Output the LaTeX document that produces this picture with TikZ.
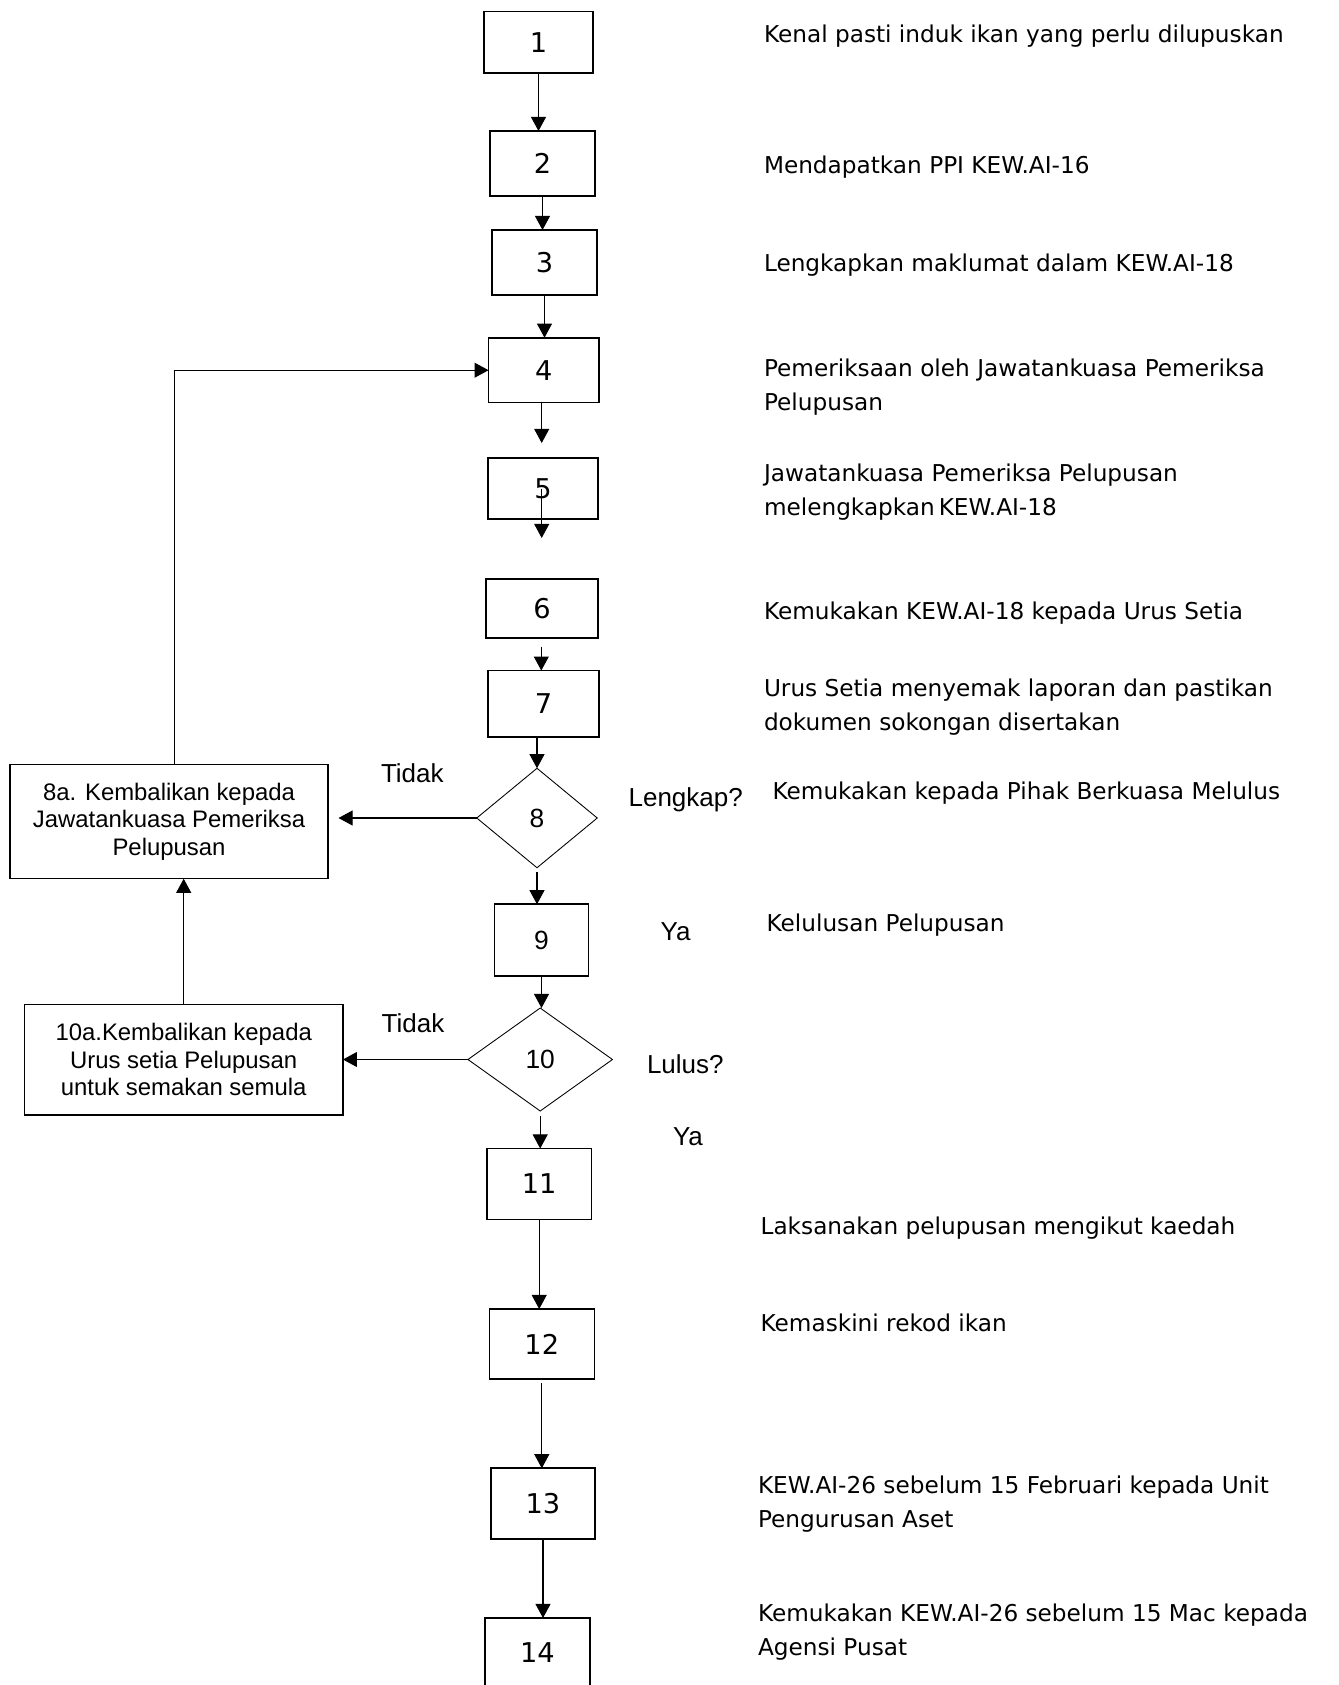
\documentclass[tikz,border=0pt]{standalone}
\usepackage{fontspec}
\setmainfont{Liberation Sans}
\newfontfamily\stepfont{DejaVu Sans}
\usetikzlibrary{shapes.geometric,arrows.meta}

\begin{document}
\begin{tikzpicture}[x=0.02cm,y=-0.02cm,inner sep=0pt,outer sep=0pt,line width=0.6pt,
stepbox/.style={draw,rectangle,line width=0.9pt,font=\stepfont\fontsize{15.5}{18}\selectfont},
askbox/.style={draw,diamond,line width=0.5pt,font=\fontsize{15}{18}\selectfont},
backbox/.style={draw,rectangle,line width=0.8pt,align=center,font=\fontsize{13.6}{15.6}\selectfont},
note/.style={anchor=north west,align=left,font=\stepfont\fontsize{13.2}{19.35}\selectfont},
choice/.style={anchor=base west,font=\fontsize{14.8}{17}\selectfont},
flow/.style={-{Triangle[length=8pt,width=8.5pt]}}]
\useasboundingbox (0,0) rectangle (1339,1685);
\draw (538.5,42.3) node[stepbox,minimum width=2.17cm,minimum height=1.23cm] (b1) {1};
\draw (542.5,163.5) node[stepbox,minimum width=2.1cm,minimum height=1.3cm] (b2) {2};
\draw (544.5,262.5) node[stepbox,minimum width=2.1cm,minimum height=1.3cm] (b3) {3};
\draw (543.8,370.2) node[stepbox,minimum width=2.21cm,minimum height=1.3cm] (b4) {4};
\draw (543,488.5) node[stepbox,minimum width=2.2cm,minimum height=1.22cm] (b5) {5};
\draw (542,608.5) node[stepbox,minimum width=2.24cm,minimum height=1.19cm] (b6) {6};
\draw (543.5,703.8) node[stepbox,minimum width=2.22cm,minimum height=1.33cm] (b7) {7};
\draw (537,818) node[askbox,minimum width=2.41cm,minimum height=1.99cm] (d8) {8};
\draw (541.5,940) node[stepbox,font=\fontsize{15}{18}\selectfont,minimum width=1.88cm,minimum height=1.43cm] (b9) {9};
\draw (540.2,1059.5) node[askbox,minimum width=2.89cm,minimum height=2.06cm] (d10) {10};
\draw (539.2,1184) node[stepbox,minimum width=2.1cm,minimum height=1.42cm] (b11) {11};
\draw (541.8,1344) node[stepbox,minimum width=2.1cm,minimum height=1.4cm] (b12) {12};
\draw (543,1503.5) node[stepbox,minimum width=2.09cm,minimum height=1.41cm] (b13) {13};
\draw (537.5,1653) node[stepbox,minimum width=2.1cm,minimum height=1.4cm] (b14) {14};
\draw (169,821.5) node[backbox,minimum width=6.36cm,minimum height=2.29cm] (b8a) {8a. Kembalikan kepada\\Jawatankuasa Pemeriksa\\Pelupusan};
\draw (183.7,1059.7) node[backbox,minimum width=6.37cm,minimum height=2.21cm] (b10a) {10a.Kembalikan kepada\\Urus setia Pelupusan\\untuk semakan semula};
\coordinate (e4) at (541.7,443);
\coordinate (e5) at (541.7,538);
\coordinate (s6) at (541.3,646.7);
\draw[flow] (b1.south) -- (b1.south |- b2.north);
\draw[flow] (b2.south) -- (b2.south |- b3.north);
\draw[flow] (b3.south) -- (b3.south |- b4.north);
\draw[flow] (e4 |- b4.south) -- (e4);
\draw[flow] (e5 |- b5.center) -- (e5);
\draw[flow] (s6) -- (s6 |- b7.north);
\draw[flow] (b7.south -| d8.north) -- (d8.north);
\draw[flow,shorten <=2.3pt] (d8.south) -- (d8.south |- b9.north);
\draw[flow] (b9.south) -- (b9.south |- d10.north);
\draw[flow,shorten <=3pt] (d10.south) -- (d10.south |- b11.north);
\draw[flow] (b11.south) -- (b11.south |- b12.north);
\draw[flow,shorten <=2.5pt] (b12.south) -- (b12.south |- b13.north);
\draw[flow] (b13.south) -- (b13.south |- b14.north);
\draw[flow,shorten >=6pt] (d8.west) -- (d8.west -| b8a.east);
\draw[flow] (d10.west) -- (d10.west -| b10a.east);
\draw[flow] (b10a.north) -- (b10a.north |- b8a.south);
\draw[flow] (b8a.north) ++(5.7,0) |- (b4.west);
\draw (381,782) node[choice] (t8) {Tidak};
\draw (628.6,806.6) node[choice] (q8) {Lengkap?};
\draw (660.7,940) node[choice] (y8) {Ya};
\draw (381.7,1032) node[choice] (t10) {Tidak};
\draw (647,1073.6) node[choice] (q10) {Lulus?};
\draw (673,1145.6) node[choice] (y10) {Ya};
\draw (764,25) node[note] (n1) {Kenal pasti induk ikan yang perlu dilupuskan};
\draw (764,156) node[note] (n2) {Mendapatkan PPI KEW.AI-16};
\draw (764,254) node[note] (n3) {Lengkapkan maklumat dalam KEW.AI-18};
\draw (764,359) node[note] (n4) {Pemeriksaan oleh Jawatankuasa Pemeriksa\\Pelupusan};
\draw (764,464) node[note] (n5) {Jawatankuasa Pemeriksa Pelupusan\\melengkapkan\,KEW.AI-18};
\draw (764,602) node[note] (n6) {Kemukakan KEW.AI-18 kepada Urus Setia};
\draw (764,679) node[note] (n7) {Urus Setia menyemak laporan dan pastikan\\dokumen sokongan disertakan};
\draw (772.6,782) node[note] (n8) {Kemukakan kepada Pihak Berkuasa Melulus};
\draw (766.6,914) node[note] (n9) {Kelulusan Pelupusan};
\draw (760.6,1217) node[note] (n11) {Laksanakan pelupusan mengikut kaedah};
\draw (760.6,1314) node[note] (n12) {Kemaskini rekod ikan};
\draw (758,1476) node[note] (n13) {KEW.AI-26 sebelum 15 Februari kepada Unit\\Pengurusan Aset};
\draw (758,1604) node[note] (n14) {Kemukakan KEW.AI-26 sebelum 15 Mac kepada\\Agensi Pusat};
\end{tikzpicture}
\end{document}
